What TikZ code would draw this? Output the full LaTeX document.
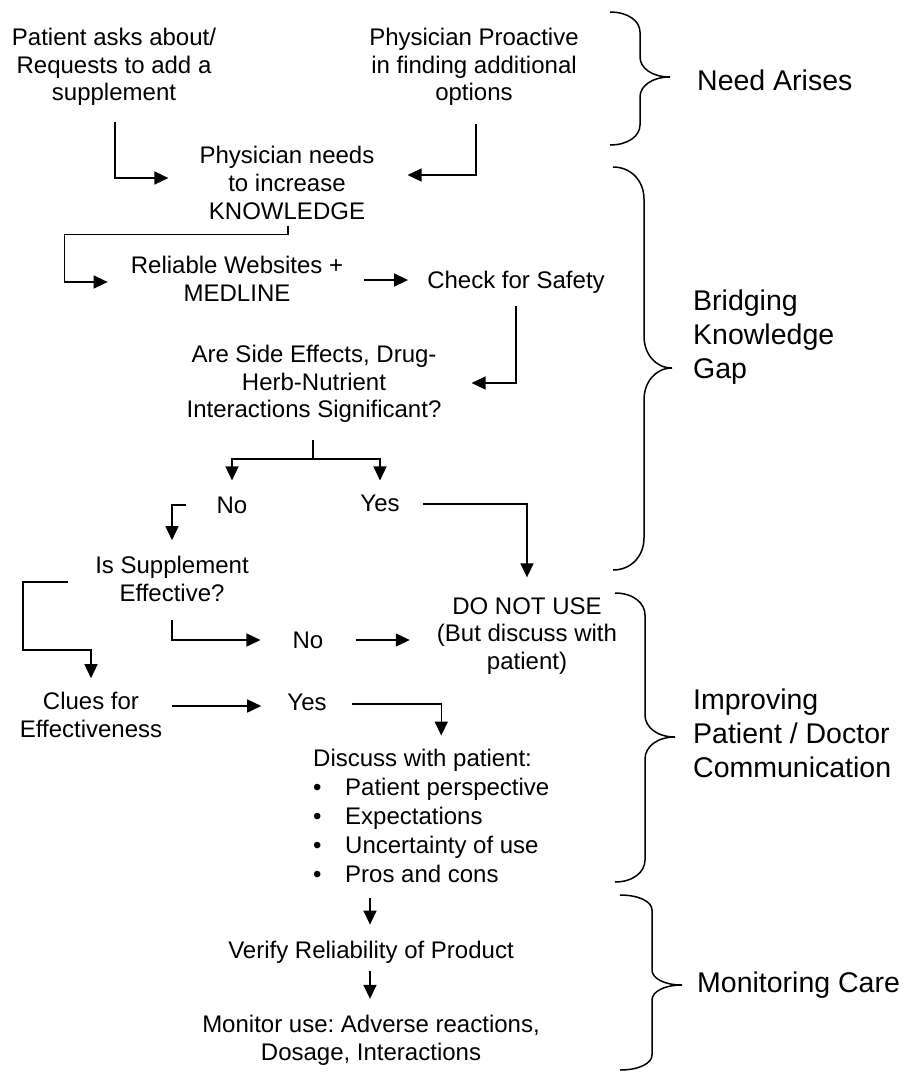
\documentclass[tikz,border=0pt]{standalone}
\usepackage{fontspec}
\setmainfont{Liberation Sans}
\usetikzlibrary{arrows.meta,calc}
\frenchspacing
\newcommand\curlybrace[7]{% xl xs xt ytop ymid ybot r
 \draw[brc] (#1,#4) .. controls ({#1+0.6*(#2-#1)},#4) and (#2,{#4+0.45*#7}) .. (#2,{#4+#7})
  -- (#2,{#5-#7}) .. controls (#2,{#5-0.45*#7}) and ({#2+0.4*(#3-#2)},#5) .. (#3,#5)
  .. controls ({#2+0.4*(#3-#2)},#5) and (#2,{#5+0.45*#7}) .. (#2,{#5+#7})
  -- (#2,{#6-#7}) .. controls (#2,{#6-0.45*#7}) and ({#1+0.6*(#2-#1)},#6) .. (#1,#6);}
\begin{document}
\frenchspacing
\begin{tikzpicture}[x=1pt,y=-1pt,
 txt/.style={align=center, inner sep=0pt, font=\fontsize{24}{27.6}\selectfont},
 lbl/.style={align=left, inner sep=0pt, anchor=west, font=\fontsize{28.5}{34}\selectfont},
 conn/.style={line width=1.5pt},
 arr/.style={conn, -{Triangle[length=14pt,width=13pt]}},
 brc/.style={line width=1.5pt}]
\fill[white] (0,0) rectangle (910,1072);
\useasboundingbox (0,0) rectangle (910,1072);

% nodes
\node[txt] (pat) at (114,67) {Patient asks about/\\Requests to add a\\supplement};
\node[txt] (pro) at (474,67) {Physician Proactive\\in finding additional\\options};
\node[txt] (know) at (287,183) {Physician needs\\to increase\\KNOWLEDGE};
\node[txt] (web) at (237,279) {Reliable Websites +\\MEDLINE};
\node[txt] (safe) at (516,282) {Check for Safety};
\node[txt] (q) at (314,384) {Are Side Effects, Drug-\\Herb-Nutrient\\Interactions Significant?};
\node[txt] (no1) at (232,505) {No};
\node[txt] (yes1) at (380,503) {Yes};
\node[txt] (isSup) at (172,579) {Is Supplement\\Effective?};
\node[txt] (no2) at (308,640) {No};
\node[txt] (dnu) at (527,636) {DO NOT USE\\(But discuss with\\patient)};
\node[txt] (clues) at (91,715) {Clues for\\Effectiveness};
\node[txt] (yes2) at (307,702) {Yes};
\node[txt, align=left, anchor=west, font=\fontsize{24}{29.2}\selectfont] (disc) at (313,816)
 {Discuss with patient:\\
  \makebox[32pt][l]{•}Patient perspective\\
  \makebox[32pt][l]{•}Expectations\\
  \makebox[32pt][l]{•}Uncertainty of use\\
  \makebox[32pt][l]{•}Pros and cons};
\node[txt] (verify) at (371,952) {Verify Reliability of Product};
\node[txt] (mon) at (371,1040) {Monitor use: Adverse reactions,\\Dosage, Interactions};

% labels
\node[lbl] (l1) at (697,80) {Need Arises};
\node[lbl] (l2) at (693,337) {Bridging\\Knowledge\\Gap};
\node[lbl] (l3) at (693,733) {Improving\\Patient / Doctor\\Communication};
\node[lbl] (l4) at (697,985) {Monitoring Care};

% braces
\curlybrace{610}{640}{670}{12}{77}{145}{20}
\curlybrace{613}{644}{672}{167}{368}{570}{32}
\curlybrace{615}{645}{675}{593}{737}{882}{22}
\curlybrace{620}{652}{682}{895}{985}{1070}{15}

% connectors
\draw[arr] ($(pat.south)+(1,16)$) |- ($(know.west)+(-31,-5)$);
\draw[arr] ($(pro.south)+(2,18)$) |- ($(know.east)+(33,-8)$);
\draw[arr] ($(know.south)+(1,6)$) -- ++(0,9) -| ($(web.west)+(-66,3)$) -- ($(web.west)+(-23,3)$);
\draw[arr] let \p1=(web.east), \p2=(safe.west) in (\x1+21pt,\y1-1pt) -- (\x2-19pt,\y1-1pt);
\draw[arr] ($(safe.south)+(0,13)$) |- ($(q.east)+(30,-1)$);
\coordinate (qs) at ($(q.south)+(-1,17)$);
\coordinate (qj) at ($(q.south)+(-1,36)$);
\draw[conn] (qs) -- (qj);
\draw[arr] (qj) -| ($(no1.north)+(0,-16)$);
\draw[arr] (qj) -| ($(yes1.north)+(0,-14)$);
\draw[arr] ($(yes1.east)+(23,1)$) -| ($(dnu.north)+(0,-20)$);
\draw[arr] ($(no1.west)+(-30,0)$) -| ($(isSup.north)+(0,-16)$);
\draw[arr] ($(isSup.west)+(-27,3)$) -- ++(-45,0) |- ($(clues.north)+(0,-42)$) -- ($(clues.north)+(0,-14)$);
\draw[arr] ($(isSup.south)+(0,18)$) |- ($(no2.west)+(-32,0)$);
\draw[arr] let \p1=(no2.east), \p2=(dnu.west) in (\x1+32pt,\y1) -- (\x2-27pt,\y1);
\draw[arr] let \p1=(clues.east), \p2=(yes2.west) in (\x1+10pt,\y1+9pt) -- (\x2-26pt,\y1+9pt);
\draw[arr] let \p1=(yes2.east), \p2=(disc.north) in (\x1+25pt,\y1-2pt) -| (\x2+10pt,\y2+13pt);
\draw[arr] let \p1=(disc.south), \p2=(verify.north) in (\x2-1pt,\y1-15pt) -- (\x2-1pt,\y2+16pt);
\draw[arr] ($(verify.south)+(-1,8)$) -- ($(mon.north)+(-1,-16)$);
\end{tikzpicture}
\end{document}
